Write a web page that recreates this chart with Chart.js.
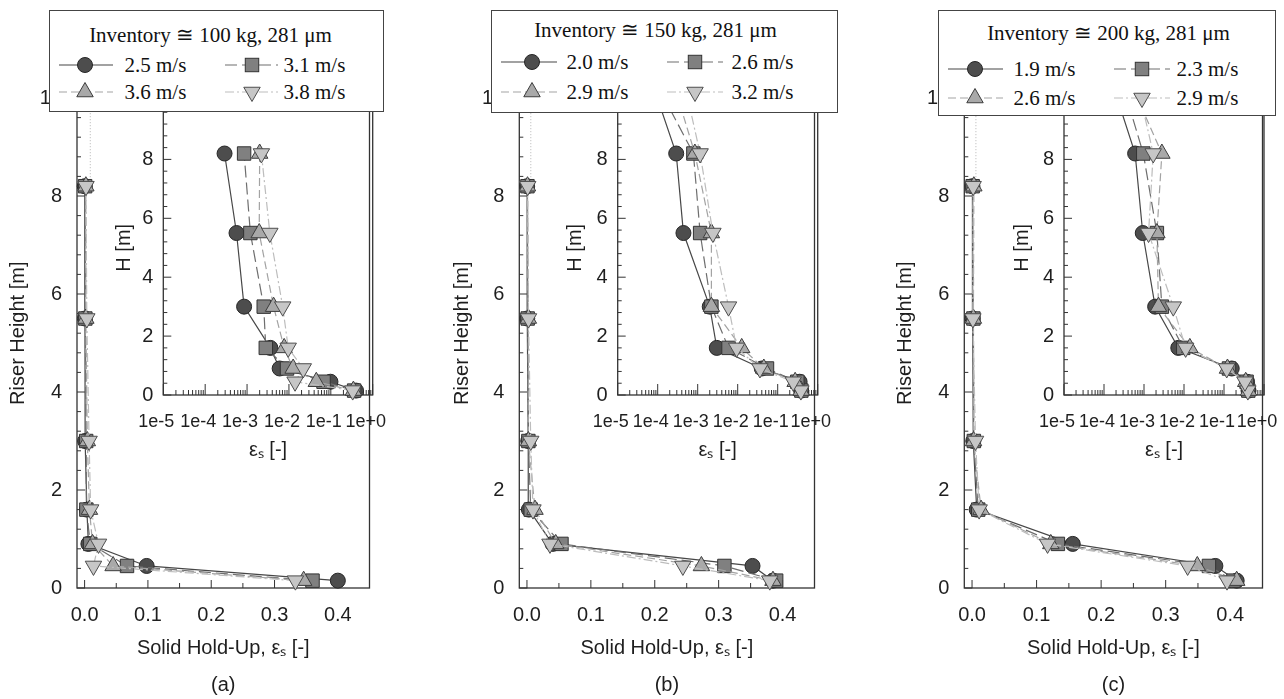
<!DOCTYPE html>
<html><head><meta charset="utf-8">
<script src="https://cdn.jsdelivr.net/npm/chart.js@4/dist/chart.umd.min.js"></script>
<style>
html,body{margin:0;padding:0;background:#fff;overflow:hidden;}
#wrap{position:relative;width:1284px;height:699px;overflow:hidden;background:#fff;}
#wrap canvas{position:absolute;}
.legend{position:absolute;background:#fff;border:1.5px solid #444;box-sizing:border-box;font-family:'Liberation Serif','Times New Roman',serif;color:#111;z-index:10;}
.legend .t{position:absolute;font-size:21px;white-space:nowrap;transform:translate(-50%,-50%);line-height:1;}
.legend .e{position:absolute;font-size:21px;white-space:nowrap;transform:translateY(-50%);line-height:1;}
.legend svg{position:absolute;overflow:visible;}
</style></head><body><div id="wrap"></div>
<script>
// ---------------- DATA ----------------
const heights = [0.15, 0.45, 0.9, 1.6, 3.0, 5.5, 8.2];          // riser height of measuring points [m]
const outletHeight = 10.5;                                        // riser outlet [m]
const panelLabels = ['(a)', '(b)', '(c)'];
const legendTitles = ['Inventory \u2245 100 kg, 281 \u03bcm', 'Inventory \u2245 150 kg, 281 \u03bcm', 'Inventory \u2245 200 kg, 281 \u03bcm'];

const velocitiesA = ['2.5 m/s', '3.1 m/s', '3.6 m/s', '3.8 m/s'];
const holdupA1 = [0.40, 0.098, 0.006, 0.0036, 0.00085, 0.00056, 0.00029];
const holdupA2 = [0.36, 0.067, 0.009, 0.0028, 0.0025, 0.0012, 0.00085];
const holdupA3 = [0.346, 0.045, 0.0126, 0.0077, 0.0043, 0.00195, 0.0020];
const holdupA4 = [0.333, 0.014, 0.022, 0.0096, 0.0071, 0.0035, 0.0022];

const velocitiesB = ['2.0 m/s', '2.6 m/s', '2.9 m/s', '3.2 m/s'];
const holdupB1 = [0.385, 0.353, 0.040, 0.0030, 0.0020, 0.00044, 0.00029];
const holdupB2 = [0.39, 0.309, 0.054, 0.0059, 0.0022, 0.00115, 0.00078];
const holdupB3 = [0.385, 0.273, 0.045, 0.0126, 0.0022, 0.0022, 0.00085];
const holdupB4 = [0.38, 0.244, 0.036, 0.0094, 0.0059, 0.0024, 0.00115];
const outletHoldupB = [0.000077, 0.00010, 0.00026, 0.00048];

const velocitiesC = ['1.9 m/s', '2.3 m/s', '2.6 m/s', '2.9 m/s'];
const holdupC1 = [0.41, 0.377, 0.156, 0.0072, 0.0019, 0.00093, 0.00060];
const holdupC2 = [0.405, 0.367, 0.133, 0.0096, 0.0028, 0.0021, 0.00096];
const holdupC3 = [0.41, 0.349, 0.122, 0.014, 0.0023, 0.0021, 0.0028];
const holdupC4 = [0.395, 0.334, 0.117, 0.011, 0.0054, 0.0013, 0.0017];
const outletHoldupC = [0.00017, 0.00030, 0.00050, 0.00070];

const guideHoldup = [0.009, 0.006, 0.006];    // faint dotted line above top point (main plots)

const mainXTickLabels = [0.0, 0.1, 0.2, 0.3, 0.4];
const heightTickLabels = [0, 2, 4, 6, 8, 10];
const insetXTickLabels = ['1e-5', '1e-4', '1e-3', '1e-2', '1e-1', '1e+0'];
const insetDecades = [-5, -4, -3, -2, -1, 0];

// ---------------- STYLE / LAYOUT ----------------
const SANS = "'Liberation Sans', Arial, sans-serif";
const TEXT = '#1e1e1e';
const AXIS = '#333333';
const seriesStyles = [
  {shape: 'circle',   radius: 7.5, fill: '#4d4d4d', edge: '#262626', line: '#474747', dash: [],          rot: 0},
  {shape: 'rect',     radius: 9.5, fill: '#808080', edge: '#333333', line: '#6e6e6e', dash: [12, 5],     rot: 0},
  {shape: 'triangle', radius: 9.5, fill: '#a9a9a9', edge: '#3d3d3d', line: '#a3a3a3', dash: [8, 4],      rot: 0},
  {shape: 'triangle', radius: 9.5, fill: '#c6c6c6', edge: '#4d4d4d', line: '#bdbdbd', dash: [9, 3, 2, 3], rot: 180},
];
const panelLayout = [
  {main: {title: 18, cl: 77, cr: 375},      inset: {title: 124, cl: 163.3, cr: 372.7},
   legend: {box: [49, 10, 335, 102], title: [211, 35], rows: [65, 92], cols: [{l1: 59, l2: 113, m: 85, t: 125}, {l1: 225, l2: 278, m: 252, t: 284}]}},
  {main: {title: 462, cl: 519.3, cr: 819.3}, inset: {title: 575, cl: 617.7, cr: 817.7},
   legend: {box: [491, 10, 347, 103], title: [656, 30], rows: [62, 92], cols: [{l1: 501, l2: 557, m: 532, t: 567}, {l1: 667, l2: 723, m: 695, t: 732}]}},
  {main: {title: 905, cl: 964.3, cr: 1267.7}, inset: {title: 1022, cl: 1064, cr: 1264},
   legend: {box: [938, 10, 338, 106], title: [1109, 33], rows: [69, 98], cols: [{l1: 948, l2: 1003, m: 975, t: 1014}, {l1: 1114, l2: 1170, m: 1142, t: 1177}]}},
];
const MAIN = {top: 78.4, bottom: 588, canvasH: 704, yMax: 10.4, xMin: -0.012, xMax: 0.45};
const INSET = {canvasTop: 90, canvasBottom: 470, top: 100, bottom: 395, yMax: 10, padR: 30};

const panels = [
  {velocities: velocitiesA, holdups: [holdupA1, holdupA2, holdupA3, holdupA4], outlet: null},
  {velocities: velocitiesB, holdups: [holdupB1, holdupB2, holdupB3, holdupB4], outlet: outletHoldupB},
  {velocities: velocitiesC, holdups: [holdupC1, holdupC2, holdupC3, holdupC4], outlet: outletHoldupC},
];

// tick value lists (axis construction)
const mainYTicks = []; for (let i = 0; i <= 26; i++) mainYTicks.push(+(i * 0.4).toFixed(1));
const insetYTicks = []; for (let i = 0; i <= 25; i++) insetYTicks.push(+(i * 0.4).toFixed(1));
const mainXTicks = []; for (let i = 0; i <= 8; i++) mainXTicks.push(+(i * 0.05).toFixed(2));
const insetXTicks = [];
insetDecades.forEach(e => { const last = e === 0 ? 1 : 9; for (let m = 1; m <= last; m++) insetXTicks.push(+(m * Math.pow(10, e)).toPrecision(3)); });

Chart.defaults.font.family = SANS;
Chart.defaults.color = TEXT;

const frameTicks = {
  id: 'frameTicks',
  beforeDatasetsDraw(chart) {
    const {ctx, chartArea: a} = chart;
    const cfg = chart.options.plugins.frameTicks;
    ctx.save();
    ctx.strokeStyle = AXIS;
    ctx.lineWidth = 1.3;
    ctx.strokeRect(a.left, a.top, a.right - a.left, a.bottom - a.top);
    ctx.lineWidth = 1;
    const xs = chart.scales.x, ys = chart.scales.y;
    xs.ticks.forEach(t => {
      const px = xs.getPixelForValue(t.value);
      if (px < a.left - 0.5 || px > a.right + 0.5) return;
      const len = t.label ? cfg.xMajor : cfg.xMinor;
      ctx.beginPath(); ctx.moveTo(px, a.bottom); ctx.lineTo(px, a.bottom - len); ctx.stroke();
    });
    ys.ticks.forEach(t => {
      const py = ys.getPixelForValue(t.value);
      if (py < a.top - 0.5 || py > a.bottom + 0.5) return;
      const len = t.label ? cfg.yMajor : cfg.yMinor;
      ctx.beginPath(); ctx.moveTo(a.left, py); ctx.lineTo(a.left + len, py); ctx.stroke();
    });
    ctx.restore();
  }
};

const wrap = document.getElementById('wrap');
function makeCanvas(left, top, w, h) {
  const c = document.createElement('canvas');
  c.width = w; c.height = h;
  c.style.left = left + 'px'; c.style.top = top + 'px';
  c.style.width = w + 'px'; c.style.height = h + 'px';
  wrap.appendChild(c);
  return c;
}

function seriesDataset(style, label, points, order, radii) {
  return {
    label, data: points, order,
    borderColor: style.line, borderWidth: 1.2, borderDash: style.dash,
    pointStyle: style.shape, pointRotation: style.rot,
    pointRadius: radii, pointHoverRadius: radii,
    pointBackgroundColor: style.fill, pointBorderColor: style.edge, pointBorderWidth: 1,
    fill: false, tension: 0, clip: false,
  };
}

panels.forEach((panel, p) => {
  const L = panelLayout[p];

  // ---------- main plot ----------
  const mLeft = Math.round(L.main.title - 12);
  const mYW = L.main.cl - mLeft;
  const mW = Math.ceil(L.main.cr + 5 - mLeft);
  const mainSets = panel.holdups.map((vals, s) =>
    seriesDataset(seriesStyles[s], panel.velocities[s], heights.map((h, i) => ({x: vals[i], y: h})), 3 - s, seriesStyles[s].radius));
  mainSets.push({
    label: 'guide', data: [{x: guideHoldup[p], y: heights[heights.length - 1]}, {x: guideHoldup[p], y: outletHeight}],
    borderColor: '#b5b5b5', borderWidth: 1, borderDash: [1, 2], pointRadius: 0, order: 10, clip: false,
  });
  new Chart(makeCanvas(mLeft, 0, mW, MAIN.canvasH), {
    type: 'line',
    data: {datasets: mainSets},
    plugins: [frameTicks],
    options: {
      responsive: false, animation: false, events: [], devicePixelRatio: 1,
      layout: {padding: {left: 0, top: MAIN.top, right: mW - (L.main.cr - mLeft), bottom: 0}},
      plugins: {legend: {display: false}, tooltip: {enabled: false}, frameTicks: {xMajor: 8, xMinor: 5, yMajor: 8, yMinor: 4}},
      scales: {
        x: {
          type: 'linear', min: MAIN.xMin, max: MAIN.xMax,
          grid: {display: false, drawTicks: false}, border: {display: false},
          afterBuildTicks: s => { s.ticks = mainXTicks.map(v => ({value: v})); },
          ticks: {autoSkip: false, maxRotation: 0, minRotation: 0, padding: 15, font: {size: 20}, color: TEXT,
            callback: v => mainXTickLabels.some(t => Math.abs(t - v) < 1e-9) ? Number(v).toFixed(1) : ''},
          title: {display: true, text: ['Solid Hold-Up, \u03b5\u209b [-]', panelLabels[p]], color: TEXT,
            font: {size: 20, lineHeight: 1.85}, padding: {top: 0, bottom: 0}},
          afterFit: s => { s.height = MAIN.canvasH - MAIN.bottom; s.paddingLeft = 0; s.paddingRight = 0; },
        },
        y: {
          type: 'linear', min: 0, max: MAIN.yMax,
          grid: {display: false, drawTicks: false}, border: {display: false},
          afterBuildTicks: s => { s.ticks = mainYTicks.map(v => ({value: v})); },
          ticks: {autoSkip: false, padding: 15, font: {size: 20}, color: TEXT,
            callback: v => heightTickLabels.some(t => Math.abs(t - v) < 1e-6) ? String(Math.round(v)) : ''},
          title: {display: true, text: 'Riser Height [m]', color: TEXT, font: {size: 20}, padding: {top: 0, bottom: 0}},
          afterFit: s => { s.width = mYW; s.paddingTop = 0; s.paddingBottom = 0; },
        },
      },
    },
  });

  // ---------- inset (log scale) ----------
  const iLeft = Math.round(L.inset.title - 12);
  const iYW = L.inset.cl - iLeft;
  const iW = Math.ceil(L.inset.cr + INSET.padR - iLeft);
  const iH = INSET.canvasBottom - INSET.canvasTop;
  const insetSets = panel.holdups.map((vals, s) => {
    const pts = heights.map((h, i) => ({x: vals[i], y: h}));
    const radii = heights.map(() => seriesStyles[s].radius);
    if (panel.outlet) { pts.push({x: panel.outlet[s], y: outletHeight}); radii.push(0); }
    return seriesDataset(seriesStyles[s], panel.velocities[s], pts, 3 - s, radii);
  });
  new Chart(makeCanvas(iLeft, INSET.canvasTop, iW, iH), {
    type: 'line',
    data: {datasets: insetSets},
    plugins: [frameTicks],
    options: {
      responsive: false, animation: false, events: [], devicePixelRatio: 1,
      layout: {padding: {left: 0, top: INSET.top - INSET.canvasTop, right: iW - (L.inset.cr - iLeft), bottom: 0}},
      plugins: {legend: {display: false}, tooltip: {enabled: false}, frameTicks: {xMajor: 11, xMinor: 5, yMajor: 8, yMinor: 4}},
      scales: {
        x: {
          type: 'logarithmic', min: 1e-5, max: 1,
          grid: {display: false, drawTicks: false}, border: {display: false},
          afterBuildTicks: s => { s.ticks = insetXTicks.map(v => ({value: v})); },
          ticks: {autoSkip: false, maxRotation: 0, minRotation: 0, padding: 16, labelOffset: -7, font: {size: 18}, color: TEXT,
            callback: v => {
              const e = Math.log10(v);
              const k = insetDecades.findIndex(d => Math.abs(d - e) < 1e-6);
              return k >= 0 ? insetXTickLabels[k] : '';
            }},
          title: {display: true, text: '\u03b5\u209b [-]', color: TEXT, font: {size: 20}, padding: {top: 0, bottom: 8}},
          afterFit: s => { s.height = INSET.canvasBottom - INSET.bottom; s.paddingLeft = 0; s.paddingRight = 0; },
        },
        y: {
          type: 'linear', min: 0, max: INSET.yMax,
          grid: {display: false, drawTicks: false}, border: {display: false},
          afterBuildTicks: s => { s.ticks = insetYTicks.map(v => ({value: v})); },
          ticks: {autoSkip: false, padding: 10, font: {size: 20}, color: TEXT,
            callback: v => heightTickLabels.some(t => Math.abs(t - v) < 1e-6) ? String(Math.round(v)) : ''},
          title: {display: true, text: 'H [m]', color: TEXT, font: {size: 20}, padding: {top: 0, bottom: 0}},
          afterFit: s => { s.width = iYW; s.paddingTop = 0; s.paddingBottom = 0; },
        },
      },
    },
  });

  // ---------- legend box ----------
  const G = L.legend;
  const box = document.createElement('div');
  box.className = 'legend';
  const [bx, by, bw, bh] = G.box;
  box.style.left = bx + 'px'; box.style.top = by + 'px'; box.style.width = bw + 'px'; box.style.height = bh + 'px';
  const title = document.createElement('div');
  title.className = 't';
  title.textContent = legendTitles[p];
  title.style.left = (G.title[0] - bx - 1.5) + 'px'; title.style.top = (G.title[1] - by - 1.5) + 'px';
  box.appendChild(title);
  panel.velocities.forEach((v, s) => {
    const st = seriesStyles[s];
    const row = G.rows[Math.floor(s / 2)], col = G.cols[s % 2];
    const w = col.l2 - col.l1;
    const mx = col.m - col.l1;
    let shape = '';
    if (st.shape === 'circle') {
      shape = `<circle cx="${mx}" cy="12" r="${st.radius}" fill="${st.fill}" stroke="${st.edge}" stroke-width="1"/>`;
    } else if (st.shape === 'rect') {
      const h = st.radius * Math.SQRT1_2;
      shape = `<rect x="${mx - h}" y="${12 - h}" width="${2 * h}" height="${2 * h}" fill="${st.fill}" stroke="${st.edge}" stroke-width="1"/>`;
    } else {
      const r = st.radius, pts = [];
      let a = st.rot * Math.PI / 180;
      for (let k = 0; k < 3; k++) { pts.push(`${mx + Math.sin(a) * r},${12 - Math.cos(a) * r}`); a += 2 * Math.PI / 3; }
      shape = `<polygon points="${pts.join(' ')}" fill="${st.fill}" stroke="${st.edge}" stroke-width="1"/>`;
    }
    const svg = document.createElementNS('http://www.w3.org/2000/svg', 'svg');
    svg.setAttribute('width', w); svg.setAttribute('height', 24);
    svg.style.left = (col.l1 - bx - 1.5) + 'px'; svg.style.top = (row - by - 1.5 - 12) + 'px';
    svg.innerHTML = `<line x1="0" y1="12" x2="${w}" y2="12" stroke="${st.line}" stroke-width="1.2" stroke-dasharray="${st.dash.join(' ')}"/>` + shape;
    box.appendChild(svg);
    const txt = document.createElement('div');
    txt.className = 'e';
    txt.textContent = v;
    txt.style.left = (col.t - bx - 1.5) + 'px'; txt.style.top = (row - by - 1.5) + 'px';
    box.appendChild(txt);
  });
  wrap.appendChild(box);
});
</script></body></html>
